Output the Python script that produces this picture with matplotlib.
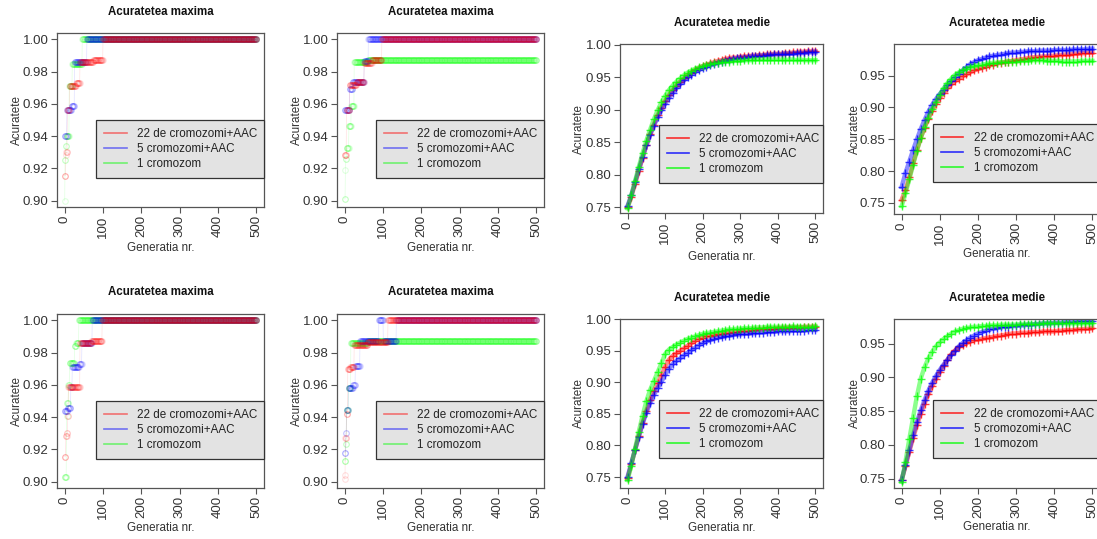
import numpy as np
import matplotlib
matplotlib.use("Agg")
import matplotlib.pyplot as plt
from matplotlib.lines import Line2D

plt.rcParams['font.family'] = ['Liberation Sans', 'DejaVu Sans']

W, H = 1097, 539

labels = ["22 de cromozomi+AAC", "5 cromozomi+AAC", "1 cromozom"]
gen_all = np.arange(0, 501)
gen_medie = np.arange(0, 501, 10)

# ---- Acuratetea maxima: generation where each level starts, and the level ----
# top-left
red1_start = [0, 3, 4, 7, 13, 30, 40, 75, 100]
red1_val = [0.9155, 0.928, 0.930, 0.956, 0.971, 0.973, 0.986, 0.987, 1.000]
blue1_start = [0, 6, 18, 26, 58]
blue1_val = [0.940, 0.956, 0.959, 0.986, 1.000]
green1_start = [0, 1, 3, 5, 12, 20, 46]
green1_val = [0.900, 0.925, 0.934, 0.940, 0.971, 0.985, 1.000]
# top, second
red2_start = [0, 5, 13, 31, 51, 71, 97]
red2_val = [0.9285, 0.956, 0.972, 0.9735, 0.9855, 0.987, 1.000]
blue2_start = [0, 13, 21, 51, 62]
blue2_val = [0.956, 0.969, 0.9735, 0.9865, 1.000]
green2_start = [0, 2, 3, 5, 11, 17, 25, 60]
green2_val = [0.901, 0.919, 0.926, 0.9325, 0.9465, 0.9585, 0.986, 0.987]
# bottom-left
red5_start = [0, 3, 6, 8, 10, 40, 70, 98]
red5_val = [0.9155, 0.928, 0.930, 0.941, 0.959, 0.986, 0.987, 1.000]
blue5_start = [0, 8, 16, 20, 38, 45, 72]
blue5_val = [0.9435, 0.9455, 0.959, 0.971, 0.973, 0.986, 1.000]
green5_start = [0, 5, 6, 10, 13, 26, 30, 37]
green5_val = [0.903, 0.941, 0.9485, 0.960, 0.9735, 0.984, 0.986, 1.000]
# bottom, second
red6_start = [0, 1, 2, 5, 8, 15, 25, 60, 113]
red6_val = [0.9015, 0.904, 0.927, 0.942, 0.970, 0.971, 0.985, 0.9865, 1.000]
blue6_start = [0, 3, 5, 10, 22, 28, 40, 89, 101, 135]
blue6_val = [0.918, 0.930, 0.9445, 0.958, 0.960, 0.9715, 0.987, 1.000, 0.987, 1.000]
green6_start = [0, 3, 5, 10, 16, 60]
green6_val = [0.913, 0.923, 0.9445, 0.958, 0.986, 0.987]

# ---- Acuratetea medie, read every 10 generations ----
red3 = [0.750, 0.766, 0.786, 0.806, 0.826, 0.845, 0.862, 0.877, 0.891, 0.903, 0.913,
        0.922, 0.930, 0.937, 0.943, 0.948, 0.953, 0.957, 0.961, 0.964, 0.967,
        0.969, 0.971, 0.973, 0.975, 0.976, 0.978, 0.979, 0.980, 0.980, 0.981,
        0.982, 0.982, 0.983, 0.983, 0.984, 0.984, 0.985, 0.985, 0.986, 0.986,
        0.986, 0.987, 0.987, 0.988, 0.988, 0.989, 0.989, 0.990, 0.990, 0.990]
blue3 = [0.752, 0.768, 0.788, 0.808, 0.827, 0.845, 0.861, 0.875, 0.888, 0.899, 0.909,
         0.918, 0.926, 0.933, 0.939, 0.945, 0.950, 0.954, 0.958, 0.961, 0.964,
         0.966, 0.968, 0.970, 0.972, 0.974, 0.975, 0.977, 0.978, 0.979, 0.980,
         0.980, 0.981, 0.982, 0.982, 0.983, 0.983, 0.984, 0.984, 0.985, 0.985,
         0.985, 0.986, 0.986, 0.986, 0.987, 0.987, 0.987, 0.988, 0.988, 0.988]
green3 = [0.748, 0.768, 0.790, 0.812, 0.833, 0.852, 0.869, 0.885, 0.899, 0.911, 0.921,
          0.930, 0.937, 0.943, 0.948, 0.953, 0.957, 0.960, 0.963, 0.965, 0.967,
          0.969, 0.970, 0.971, 0.972, 0.973, 0.974, 0.974, 0.975, 0.975, 0.975,
          0.976, 0.976, 0.976, 0.977, 0.977, 0.977, 0.977, 0.977, 0.977, 0.977,
          0.977, 0.976, 0.977, 0.977, 0.976, 0.977, 0.976, 0.976, 0.976, 0.976]

red4 = [0.755, 0.770, 0.790, 0.812, 0.833, 0.852, 0.868, 0.882, 0.895, 0.906, 0.915,
        0.923, 0.930, 0.936, 0.941, 0.945, 0.949, 0.952, 0.955, 0.958, 0.960,
        0.962, 0.964, 0.966, 0.967, 0.969, 0.970, 0.971, 0.972, 0.973, 0.974,
        0.975, 0.976, 0.977, 0.978, 0.979, 0.979, 0.980, 0.980, 0.981, 0.981,
        0.982, 0.982, 0.983, 0.983, 0.984, 0.984, 0.985, 0.985, 0.986, 0.986]
blue4 = [0.775, 0.797, 0.815, 0.833, 0.850, 0.866, 0.880, 0.893, 0.904, 0.913, 0.921,
         0.928, 0.935, 0.941, 0.947, 0.953, 0.958, 0.963, 0.968, 0.971, 0.974,
         0.976, 0.978, 0.980, 0.981, 0.982, 0.983, 0.984, 0.985, 0.986, 0.986,
         0.987, 0.987, 0.988, 0.988, 0.988, 0.989, 0.989, 0.989, 0.989, 0.990,
         0.990, 0.990, 0.990, 0.990, 0.991, 0.991, 0.991, 0.991, 0.992, 0.992]
green4 = [0.745, 0.765, 0.787, 0.810, 0.832, 0.852, 0.869, 0.884, 0.897, 0.909, 0.920,
          0.930, 0.938, 0.945, 0.951, 0.955, 0.958, 0.961, 0.963, 0.965, 0.966,
          0.967, 0.968, 0.969, 0.970, 0.970, 0.971, 0.971, 0.972, 0.972, 0.972,
          0.973, 0.973, 0.973, 0.974, 0.974, 0.974, 0.974, 0.973, 0.973, 0.973,
          0.973, 0.972, 0.972, 0.972, 0.972, 0.972, 0.973, 0.973, 0.973, 0.973]

red7 = [0.748, 0.770, 0.793, 0.815, 0.836, 0.855, 0.872, 0.887, 0.899, 0.911, 0.925,
        0.936, 0.942, 0.946, 0.950, 0.954, 0.958, 0.962, 0.966, 0.969, 0.971,
        0.973, 0.974, 0.975, 0.976, 0.977, 0.978, 0.979, 0.980, 0.980, 0.981,
        0.982, 0.982, 0.983, 0.983, 0.984, 0.984, 0.985, 0.985, 0.985, 0.986,
        0.986, 0.986, 0.987, 0.987, 0.987, 0.987, 0.988, 0.988, 0.988, 0.988]
blue7 = [0.750, 0.772, 0.793, 0.814, 0.834, 0.852, 0.867, 0.880, 0.891, 0.901, 0.912,
         0.922, 0.929, 0.934, 0.938, 0.943, 0.947, 0.951, 0.955, 0.959, 0.962,
         0.965, 0.967, 0.969, 0.971, 0.972, 0.973, 0.974, 0.975, 0.976, 0.976,
         0.977, 0.977, 0.978, 0.978, 0.979, 0.979, 0.980, 0.980, 0.980, 0.981,
         0.981, 0.981, 0.981, 0.982, 0.982, 0.982, 0.982, 0.983, 0.983, 0.983]
green7 = [0.745, 0.768, 0.795, 0.822, 0.847, 0.870, 0.888, 0.902, 0.916, 0.930, 0.945,
          0.952, 0.956, 0.960, 0.963, 0.966, 0.969, 0.971, 0.973, 0.975, 0.977,
          0.978, 0.979, 0.980, 0.981, 0.982, 0.983, 0.984, 0.984, 0.985, 0.985,
          0.986, 0.986, 0.986, 0.987, 0.987, 0.987, 0.988, 0.988, 0.988, 0.988,
          0.988, 0.988, 0.988, 0.989, 0.988, 0.988, 0.988, 0.988, 0.988, 0.989]

red8 = [0.748, 0.768, 0.790, 0.810, 0.829, 0.846, 0.861, 0.875, 0.887, 0.898, 0.908,
        0.917, 0.926, 0.934, 0.940, 0.945, 0.948, 0.951, 0.953, 0.955, 0.956,
        0.957, 0.958, 0.959, 0.960, 0.961, 0.962, 0.963, 0.964, 0.965, 0.965,
        0.966, 0.966, 0.966, 0.967, 0.967, 0.967, 0.968, 0.968, 0.968, 0.968,
        0.969, 0.969, 0.970, 0.970, 0.970, 0.971, 0.971, 0.972, 0.972, 0.973]
blue8 = [0.748, 0.770, 0.792, 0.814, 0.834, 0.851, 0.866, 0.880, 0.892, 0.902, 0.911,
         0.919, 0.926, 0.933, 0.939, 0.946, 0.951, 0.955, 0.959, 0.962, 0.965,
         0.967, 0.969, 0.971, 0.972, 0.973, 0.974, 0.975, 0.975, 0.976, 0.976,
         0.977, 0.977, 0.978, 0.978, 0.979, 0.979, 0.980, 0.980, 0.980, 0.981,
         0.981, 0.981, 0.982, 0.982, 0.982, 0.983, 0.983, 0.983, 0.984, 0.984]
green8 = [0.745, 0.775, 0.808, 0.840, 0.872, 0.898, 0.915, 0.928, 0.938, 0.946, 0.952,
          0.957, 0.961, 0.965, 0.968, 0.970, 0.972, 0.973, 0.974, 0.975, 0.975,
          0.976, 0.976, 0.977, 0.977, 0.977, 0.978, 0.978, 0.978, 0.978, 0.978,
          0.979, 0.979, 0.979, 0.979, 0.979, 0.979, 0.980, 0.980, 0.980, 0.980,
          0.980, 0.980, 0.980, 0.980, 0.980, 0.980, 0.980, 0.980, 0.980, 0.980]

RED, BLUE, GREEN = "#ff0000", "#0000ff", "#00ff00"
TXT = "#333333"
BOX = "#555555"


def steps(start, val):
    # value held from each start generation until the next one
    idx = np.searchsorted(start, gen_all, side="right") - 1
    return np.array(val)[idx]


def px_axes(fig, left, top, right, bottom):
    return fig.add_axes([left / W, 1 - bottom / H, (right - left) / W, (bottom - top) / H])


def style(ax, ylim, yticks, ylabels):
    ax.set_xlim(-20, 520)
    ax.set_ylim(*ylim)
    ax.set_xticks([0, 100, 200, 300, 400, 500])
    ax.set_xticklabels(["0", "100", "200", "300", "400", "500"], rotation=90)
    ax.set_yticks(yticks)
    ax.set_yticklabels(ylabels)
    ax.tick_params(direction="out", length=4, width=0.8, colors=BOX,
                   labelcolor=TXT, labelsize=9.5, pad=2)
    for s in ax.spines.values():
        s.set_color(BOX)
        s.set_linewidth(0.9)


def legend(ax, bbox, alpha):
    hs = [Line2D([], [], color=c, lw=1.2, alpha=alpha) for c in (RED, BLUE, GREEN)]
    lg = ax.legend(hs, labels, loc="upper left", bbox_to_anchor=bbox, mode="expand",
                   fontsize=8.4, frameon=True, fancybox=False, framealpha=1,
                   facecolor="#e3e3e3", edgecolor="#333333", borderaxespad=0,
                   handlelength=1.9, handletextpad=0.9, labelspacing=0.25,
                   borderpad=0.7)
    lg.get_frame().set_linewidth(0.9)
    for t in lg.get_texts():
        t.set_color("#222222")


def labels_px(fig, title, tx, ty, xx, xy, yx, yy):
    fig.text(tx / W, 1 - ty / H, title, ha="center", va="center",
             fontsize=8.3, fontweight="bold", color="#111111")
    fig.text(xx / W, 1 - xy / H, "Generatia nr.", ha="center", va="center",
             fontsize=8.4, color=TXT)
    fig.text(yx / W, 1 - yy / H, "Acuratete", ha="center", va="center",
             rotation=90, fontsize=8.4, color=TXT)


def panel_max(fig, box, series, tpos, xlab_y, ylab_x):
    ax = px_axes(fig, *box)
    for (start, val), col in zip(series, (GREEN, BLUE, RED)):
        y = steps(start, val)
        ax.plot(gen_all, y, color=col, lw=0.6, alpha=0.1)
        ax.plot(gen_all, y, ls="none", marker="o", mfc="none", mec=col,
                ms=4.0, mew=0.8, alpha=0.12)
    style(ax, (0.896, 1.004), [0.90, 0.92, 0.94, 0.96, 0.98, 1.00],
          ["0.90", "0.92", "0.94", "0.96", "0.98", "1.00"])
    legend(ax, (0.19, 0.40, 0.81, 0.1), 0.5)
    left, top, right, bottom = box
    labels_px(fig, "Acuratetea maxima", (left + right) / 2, tpos,
              (left + right) / 2, xlab_y, ylab_x, (top + bottom) / 2)


def panel_med(fig, box, series, ylim, tpos, xlab_y, ylab_x, leg_top):
    ax = px_axes(fig, *box)
    for vals, col in zip(series, (RED, BLUE, GREEN)):
        ax.plot(gen_medie, vals, color=col, lw=3.2, alpha=0.45)
        ax.plot(gen_medie, vals, ls="none", marker="+", color=col,
                ms=5.5, mew=1.0, alpha=0.75)
    ticks = [t for t in (0.75, 0.80, 0.85, 0.90, 0.95, 1.00) if t <= ylim[1]]
    style(ax, ylim, ticks, ["%.2f" % t for t in ticks])
    legend(ax, (0.19, leg_top, 0.81, 0.1), 0.8)
    left, top, right, bottom = box
    labels_px(fig, "Acuratetea medie", (left + right) / 2, tpos,
              (left + right) / 2, xlab_y, ylab_x, (top + bottom) / 2)


fig = plt.figure(figsize=(W / 100, H / 100), dpi=100)

panel_max(fig, (57, 33, 264, 207),
          [(green1_start, green1_val), (blue1_start, blue1_val), (red1_start, red1_val)],
          12, 248, 17)
panel_max(fig, (337, 33, 544, 207),
          [(green2_start, green2_val), (blue2_start, blue2_val), (red2_start, red2_val)],
          12, 248, 297)
panel_max(fig, (57, 314, 264, 488),
          [(green5_start, green5_val), (blue5_start, blue5_val), (red5_start, red5_val)],
          292, 528, 17)
panel_max(fig, (337, 314, 544, 488),
          [(green6_start, green6_val), (blue6_start, blue6_val), (red6_start, red6_val)],
          292, 528, 297)

panel_med(fig, (620, 44, 823, 213), [red3, blue3, green3], (0.741, 1.001),
          23, 257, 579, 0.42)
panel_med(fig, (894, 44, 1100, 214), [red4, blue4, green4], (0.7327, 0.9995),
          23, 254, 855, 0.43)
panel_med(fig, (620, 319, 823, 488), [red7, blue7, green7], (0.7326, 1.0005),
          298, 528, 579, 0.42)
panel_med(fig, (894, 319, 1100, 488), [red8, blue8, green8], (0.736, 0.9865),
          298, 527, 855, 0.42)

fig.savefig("out.png", dpi=100, facecolor="white")
